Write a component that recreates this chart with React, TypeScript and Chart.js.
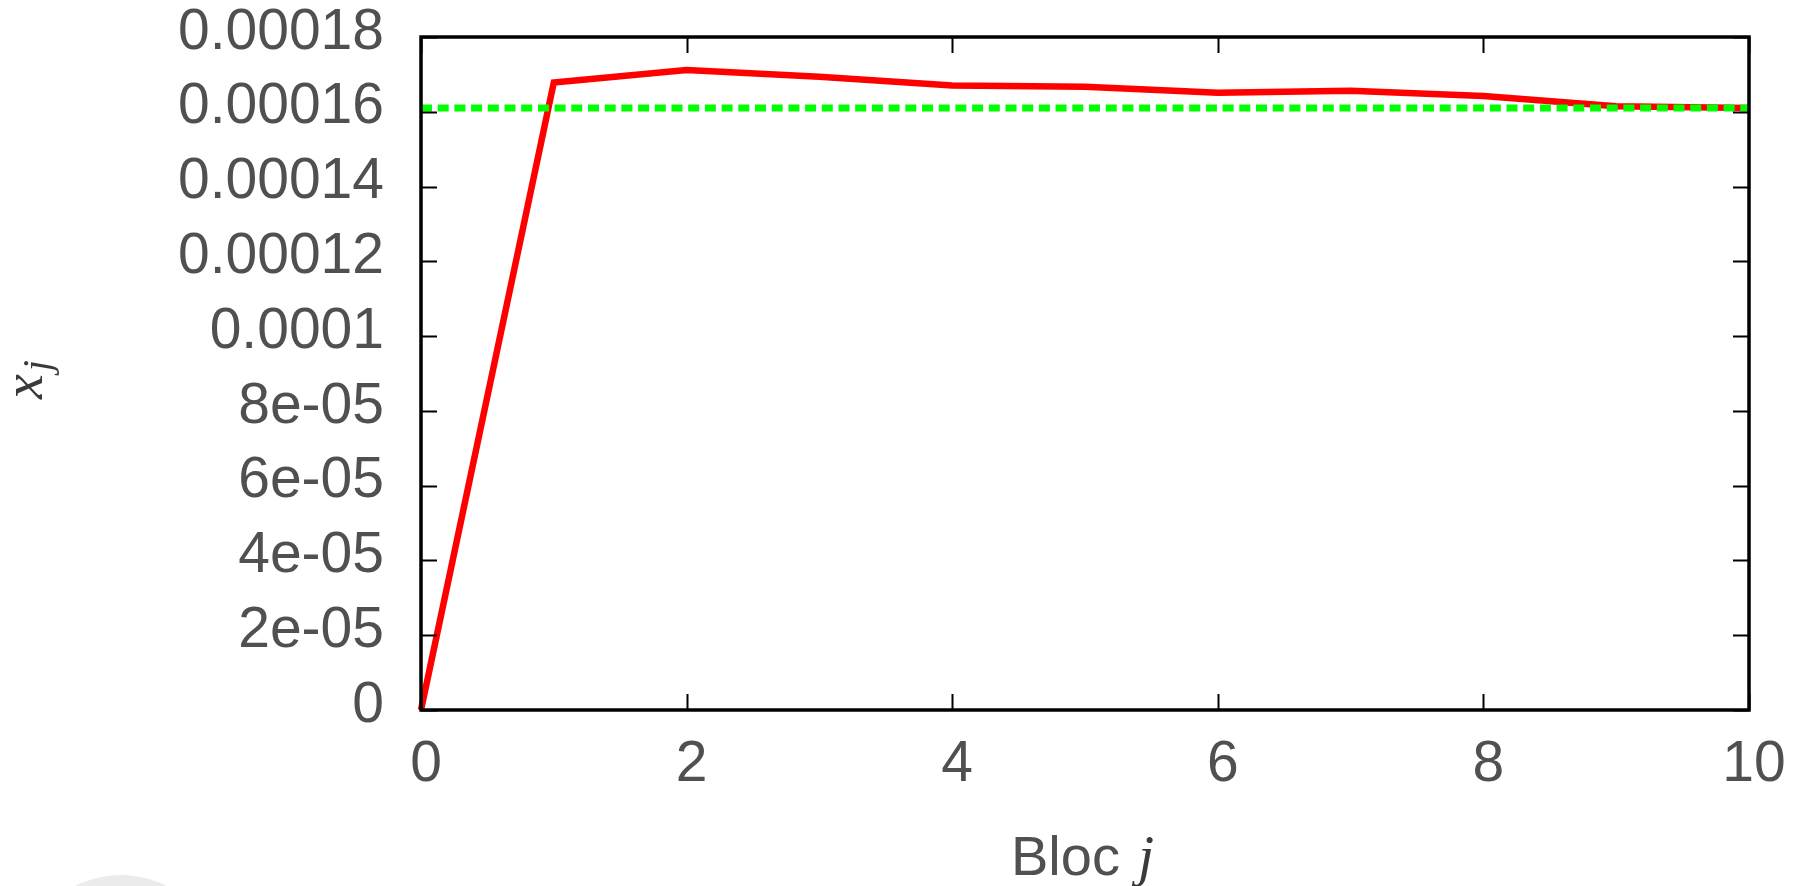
import React, { useEffect, useRef } from "react";
import { Chart, registerables } from "chart.js";

Chart.register(...registerables);

// ---- data ----
const blockIndex = [0, 1, 2, 3, 4, 5, 6, 7, 8, 9, 10];
const xjValues = [
  0, 0.0001678, 0.0001712, 0.0001694, 0.000167, 0.0001667, 0.0001651, 0.0001656,
  0.0001642, 0.0001615, 0.000161,
];
const referenceValue = 0.000161;
const referenceRange = [0, 10];
const xTickValues = [0, 2, 4, 6, 8, 10];
const xTickLabels = ["0", "2", "4", "6", "8", "10"];
const yTickValues = [
  0, 0.00002, 0.00004, 0.00006, 0.00008, 0.0001, 0.00012, 0.00014, 0.00016, 0.00018,
];
const yTickLabels = [
  "0", "2e-05", "4e-05", "6e-05", "8e-05", "0.0001", "0.00012", "0.00014", "0.00016", "0.00018",
];
const xTitle = "Bloc";
const xTitleVar = "j";
const yTitleVar = "x";
const yTitleSub = "j";

const SANS = '"Liberation Sans", Arial, Helvetica, sans-serif';
const SERIF = '"Liberation Serif", "DejaVu Serif", serif';
const TEXT = "#505050";

const gnuplotFrame = {
  id: "gnuplotFrame",
  afterDatasetsDraw(chart: any) {
    const { ctx, chartArea, scales } = chart;
    const { left, right, top, bottom } = chartArea;
    const x = scales.x;
    const y = scales.y;
    const tl = 16;
    ctx.save();
    ctx.strokeStyle = "#000";
    ctx.lineWidth = 2;
    ctx.beginPath();
    xTickValues.forEach((v) => {
      const px = Math.round(x.getPixelForValue(v)) + 0.5;
      ctx.moveTo(px, bottom);
      ctx.lineTo(px, bottom - tl);
      ctx.moveTo(px, top);
      ctx.lineTo(px, top + tl);
    });
    yTickValues.forEach((v) => {
      const py = Math.round(y.getPixelForValue(v)) + 0.5;
      ctx.moveTo(left, py);
      ctx.lineTo(left + tl, py);
      ctx.moveTo(right, py);
      ctx.lineTo(right - tl, py);
    });
    ctx.stroke();
    ctx.lineWidth = 3.5;
    ctx.strokeRect(left, top, right - left, bottom - top);
    ctx.restore();
  },
  afterDraw(chart: any) {
    const { ctx } = chart;
    ctx.save();
    ctx.textAlign = "left";
    ctx.textBaseline = "alphabetic";
    // x-axis title
    ctx.fillStyle = TEXT;
    ctx.font = `56px ${SANS}`;
    ctx.fillText(xTitle, 1011, 875);
    ctx.fillStyle = "#3a3a3a";
    ctx.font = `italic 58px ${SERIF}`;
    ctx.fillText(xTitleVar, 1138, 875);
    // y-axis title (rotated)
    ctx.translate(42, 399);
    ctx.rotate(-Math.PI / 2);
    ctx.font = `italic 56px ${SERIF}`;
    ctx.fillText(yTitleVar, 0, 0);
    const w = ctx.measureText(yTitleVar).width;
    ctx.font = `italic 40px ${SERIF}`;
    ctx.fillText(yTitleSub, w + 3, 8);
    ctx.restore();
  },
};

export default function App() {
  const canvasRef = useRef<HTMLCanvasElement | null>(null);

  useEffect(() => {
    const canvas = canvasRef.current;
    if (!canvas) return;
    const chart = new Chart(canvas, {
      type: "line",
      data: {
        datasets: [
          {
            label: "reference",
            data: referenceRange.map((v) => ({ x: v, y: referenceValue })),
            borderColor: "#00ff00",
            borderWidth: 7,
            borderDash: [11, 5.7],
            borderCapStyle: "butt",
            pointRadius: 0,
            fill: false,
            order: 0,
          },
          {
            label: "x_j",
            data: blockIndex.map((b, i) => ({ x: b, y: xjValues[i] })),
            borderColor: "#ff0000",
            borderWidth: 6.5,
            borderJoinStyle: "miter",
            tension: 0,
            pointRadius: 0,
            fill: false,
            clip: 6,
            order: 1,
          },
        ],
      },
      options: {
        animation: false,
        responsive: false,
        devicePixelRatio: 1,
        layout: { padding: { top: 37, right: 51, left: 0, bottom: 0 } },
        plugins: {
          legend: { display: false },
          tooltip: { enabled: false },
          title: { display: false },
        },
        scales: {
          x: {
            type: "linear",
            position: "bottom",
            min: 0,
            max: 10,
            afterBuildTicks: (s: any) => {
              s.ticks = xTickValues.map((v) => ({ value: v }));
            },
            afterFit: (s: any) => {
              s.height = 176;
              s.paddingLeft = 0;
              s.paddingRight = 0;
            },
            ticks: {
              autoSkip: false,
              maxRotation: 0,
              padding: 21,
              labelOffset: 5,
              color: TEXT,
              font: { family: SANS, size: 57 },
              callback: (_v: any, i: number) => xTickLabels[i],
            },
            grid: { display: false, drawTicks: false },
            border: { display: false },
          },
          y: {
            type: "linear",
            position: "left",
            min: 0,
            max: 0.00018,
            afterBuildTicks: (s: any) => {
              s.ticks = yTickValues.map((v) => ({ value: v }));
            },
            afterFit: (s: any) => {
              s.width = 421;
              s.paddingTop = 0;
              s.paddingBottom = 0;
            },
            ticks: {
              autoSkip: false,
              padding: 37,
              labelOffset: -4,
              color: TEXT,
              font: { family: SANS, size: 57 },
              callback: (_v: any, i: number) => yTickLabels[i],
            },
            grid: { display: false, drawTicks: false },
            border: { display: false },
          },
        },
      },
      plugins: [gnuplotFrame],
    });
    return () => chart.destroy();
  }, []);

  return (
    <div
      style={{
        position: "fixed",
        left: 0,
        top: 0,
        width: 1800,
        height: 886,
        overflow: "hidden",
        background: "#fff",
      }}
    >
      <div
        style={{
          position: "absolute",
          left: 21,
          top: 875,
          width: 200,
          height: 200,
          borderRadius: "50%",
          background: "#ebebeb",
        }}
      />
      <canvas
        ref={canvasRef}
        width={1800}
        height={886}
        style={{ position: "absolute", left: 0, top: 0, width: 1800, height: 886 }}
      />
    </div>
  );
}
